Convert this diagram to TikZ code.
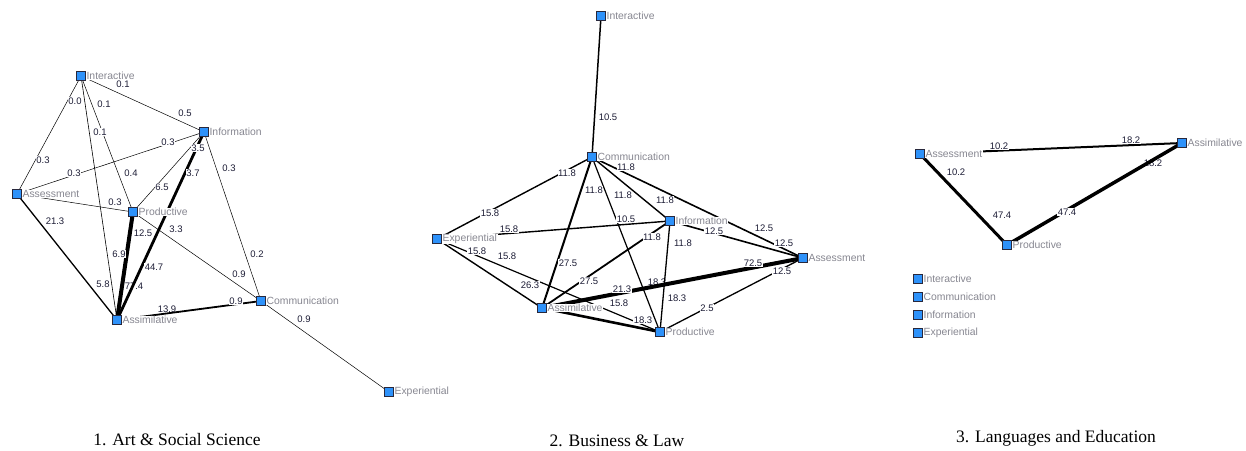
\documentclass[tikz,border=0pt]{standalone}
\usepackage{fontspec}
\setmainfont{Liberation Serif}
\newfontfamily\labfont{Liberation Sans}
\definecolor{nodeblue}{RGB}{46,146,250}
\definecolor{nodeedge}{RGB}{40,40,60}
\definecolor{ntext}{RGB}{135,135,145}
\definecolor{etext}{RGB}{30,30,55}
\pgfdeclarelayer{paper}
\pgfdeclarelayer{edges}
\pgfsetlayers{paper,edges,main}
\tikzset{
  vtx/.style={rectangle, draw=nodeedge, fill=nodeblue, minimum size=9pt, inner sep=0pt, line width=0.6pt},
  nlab/.style={font=\labfont\fontsize{10.4}{12}\selectfont, text=ntext, fill=white, inner sep=0.6pt},
  vl/.style={vtx, label={[nlab, label distance=0pt]right:#1}},
  elab/.style={font=\labfont\fontsize{9.5}{11}\selectfont, text=etext, fill=white, inner sep=0.4pt},
  ed/.style={draw=black, line width=#1},
  captext/.style={font=\fontsize{17.5}{20}\selectfont, text=black},
}
\begin{document}
\begin{tikzpicture}[x=1pt, y=-1pt]
\useasboundingbox (0,0) rectangle (1246,450);
\begin{pgfonlayer}{paper}
\fill[white] (0,0) rectangle (1246,450);
\end{pgfonlayer}

% ---------- Panel 1 nodes ----------
\node[vl=Interactive] (a1int) at (81,76) {};
\node[vl=Information] (a1inf) at (204,132) {};
\node[vl=Assessment] (a1ass) at (17,194) {};
\node[vl=Productive] (a1pro) at (133,212) {};
\node[vl=Assimilative] (a1asm) at (117,320) {};
\node[vl=Communication] (a1com) at (261,301) {};
\node[vl=Experiential] (a1exp) at (389,392) {};

% ---------- Panel 2 nodes ----------
\node[vl=Interactive] (b2int) at (601,16) {};
\node[vl=Communication] (b2com) at (592,157) {};
\node[vl=Information] (b2inf) at (670,221) {};
\node[vl=Experiential] (b2exp) at (437,239) {};
\node[vl=Assessment] (b2ass) at (803,258) {};
\node[vl=Assimilative] (b2asm) at (542,308) {};
\node[vl=Productive] (b2pro) at (660,332) {};

% ---------- Panel 3 nodes ----------
\node[vl=Assessment] (c3ass) at (920,154) {};
\node[vl=Assimilative] (c3asm) at (1182,143) {};
\node[vl=Productive] (c3pro) at (1007,245) {};
\node[vl=Interactive] (c3l1) at (918,279) {};
\node[vl=Communication] (c3l2) at (918,297) {};
\node[vl=Information] (c3l3) at (918,315) {};
\node[vl=Experiential] (c3l4) at (918,333) {};

\begin{pgfonlayer}{edges}
% labels lying under lines
\node[elab] (a1l23) at (167,309) {13.9};
\node[elab] (a1l21) at (134,286) {77.4};
\node[elab] (b2l20) at (657,282) {18.3};
\node[elab] (c3l06) at (1153,163) {18.2};
% panel 1 edges
\draw[ed=0.5] (a1int.center) -- (a1inf.center);
\draw[ed=0.5] (a1int.center) -- (a1ass.center);
\draw[ed=0.6] (a1int.center) -- (a1asm.center);
\draw[ed=0.5] (a1int.center) -- (a1pro.center);
\draw[ed=0.5] (a1ass.center) -- (a1inf.center);
\draw[ed=0.5] (a1ass.center) -- (a1pro.center);
\draw[ed=1.3] (a1ass.center) -- (a1asm.center);
\draw[ed=0.5] (a1pro.center) -- (a1inf.center);
\draw[ed=4] (a1pro.center) -- (a1asm.center);
\draw[ed=2.8] (a1inf.center) -- (a1asm.center);
\draw[ed=0.5] (a1pro.center) -- (a1com.center);
\draw[ed=0.5] (a1inf.center) -- (a1com.center);
\draw[ed=1.8] (a1asm.center) -- (a1com.center);
\draw[ed=0.5] (a1com.center) -- (a1exp.center);
% panel 2 edges
\draw[ed=1.5] (b2int.center) -- (b2com.center);
\draw[ed=1.4] (b2com.center) -- (b2exp.center);
\draw[ed=2] (b2com.center) -- (b2asm.center);
\draw[ed=1.2] (b2com.center) -- (b2pro.center);
\draw[ed=1.4] (b2com.center) -- (b2inf.center);
\draw[ed=1.6] (b2com.center) -- (b2ass.center);
\draw[ed=1.4] (b2exp.center) -- (b2inf.center);
\draw[ed=1.4] (b2exp.center) -- (b2asm.center);
\draw[ed=1.2] (b2exp.center) -- (b2pro.center);
\draw[ed=1.8] (b2inf.center) -- (b2asm.center);
\draw[ed=1.3] (b2inf.center) -- (b2pro.center);
\draw[ed=1.6] (b2inf.center) -- (b2ass.center);
\draw[ed=4] (b2asm.center) -- (b2ass.center);
\draw[ed=2.6] (b2asm.center) -- (b2pro.center);
\draw[ed=1.3] (b2pro.center) -- (b2ass.center);
% panel 3 edges
\draw[ed=2] (c3ass.center) -- (c3asm.center);
\draw[ed=3] (c3ass.center) -- (c3pro.center);
\draw[ed=3.5] (c3asm.center) -- (c3pro.center);
% label partly hidden by the Information label
\node[elab] (b2l15) at (714,231) {12.5};
\end{pgfonlayer}

% ---------- Panel 1 edge labels ----------
\node[elab] (a1l01) at (123,84) {0.1};
\node[elab] (a1l02) at (185,113) {0.5};
\node[elab] (a1l03) at (75,101) {0.0};
\node[elab] (a1l04) at (43,160) {0.3};
\node[elab] (a1l05) at (104,104) {0.1};
\node[elab] (a1l06) at (100,132) {0.1};
\node[elab] (a1l07) at (131,173) {0.4};
\node[elab] (a1l08) at (168,142) {0.3};
\node[elab] (a1l09) at (74,173) {0.3};
\node[elab] (a1l10) at (198,148) {3.5};
\node[elab] (a1l11) at (193,173) {3.7};
\node[elab] (a1l12) at (229,168) {0.3};
\node[elab] (a1l13) at (162,187) {6.5};
\node[elab] (a1l14) at (115,202) {0.3};
\node[elab] (a1l15) at (55,221) {21.3};
\node[elab] (a1l16) at (143,233) {12.5};
\node[elab] (a1l17) at (176,229) {3.3};
\node[elab] (a1l18) at (119,254) {6.9};
\node[elab] (a1l19) at (154,267) {44.7};
\node[elab] (a1l20) at (103,284) {5.8};
\node[elab] (a1l22) at (239,274) {0.9};
\node[elab] (a1l24) at (257,254) {0.2};
\node[elab] (a1l25) at (236,301) {0.9};
\node[elab] (a1l26) at (304,319) {0.9};

% ---------- Panel 2 edge labels ----------
\node[elab] (b2l01) at (608,117) {10.5};
\node[elab] (b2l02) at (567,173) {11.8};
\node[elab] (b2l03) at (490,213) {15.8};
\node[elab] (b2l04) at (594,190) {11.8};
\node[elab] (b2l05) at (568,263) {27.5};
\node[elab] (b2l06) at (626,167) {11.8};
\node[elab] (b2l07) at (623,195) {11.8};
\node[elab] (b2l08) at (665,200) {11.8};
\node[elab] (b2l09) at (509,229) {15.8};
\node[elab] (b2l10) at (626,219) {10.5};
\node[elab] (b2l11) at (652,237) {11.8};
\node[elab] (b2l12) at (683,243) {11.8};
\node[elab] (b2l13) at (764,228) {12.5};
\node[elab] (b2l14) at (784,243) {12.5};
\node[elab] (b2l16) at (753,263) {72.5};
\node[elab] (b2l17) at (782,271) {12.5};
\node[elab] (b2l18) at (477,251) {15.8};
\node[elab] (b2l19) at (507,256) {15.8};
\node[elab] (b2l21) at (530,285) {26.3};
\node[elab] (b2l22) at (589,281) {27.5};
\node[elab] (b2l23) at (622,289) {21.3};
\node[elab] (b2l24) at (677,298) {18.3};
\node[elab] (b2l25) at (619,303) {15.8};
\node[elab] (b2l26) at (643,320) {18.3};
\node[elab] (b2l27) at (707,308) {2.5};

% ---------- Panel 3 edge labels ----------
\node[elab] (c3l01) at (999,146) {10.2};
\node[elab] (c3l02) at (1131,140) {18.2};
\node[elab] (c3l03) at (956,172) {10.2};
\node[elab] (c3l04) at (1002,215) {47.4};
\node[elab] (c3l05) at (1067,212) {47.4};

% ---------- Captions ----------
\node[captext] (cap1) at (177,440) {1. Art \& Social Science};
\node[captext] (cap2) at (617,441) {2. Business \& Law};
\node[captext] (cap3) at (1056,438) {3. Languages and Education};
\end{tikzpicture}
\end{document}
